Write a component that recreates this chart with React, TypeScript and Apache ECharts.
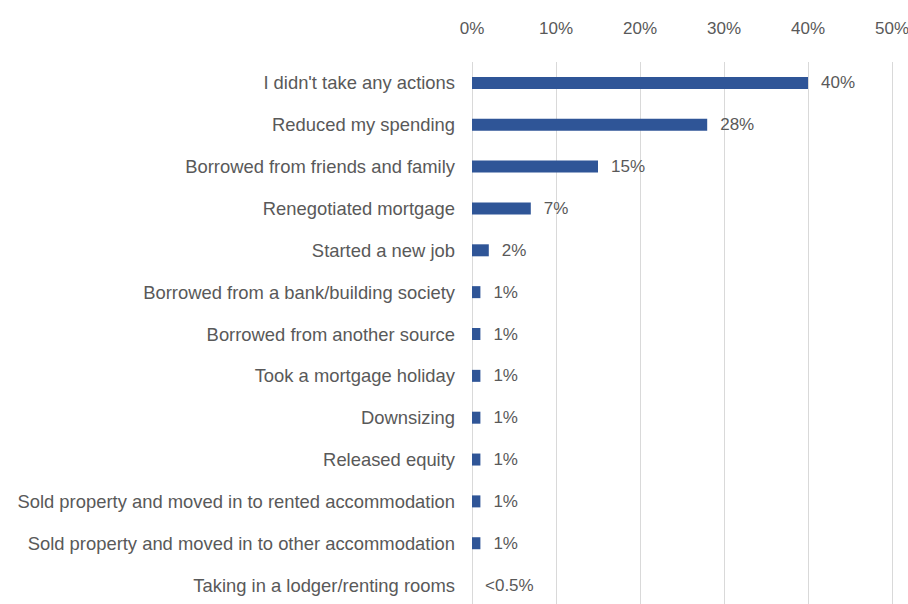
import React, { useEffect, useRef } from "react";
import * as echarts from "echarts";

const categories = [
  "I didn't take any actions",
  "Reduced my spending",
  "Borrowed from friends and family",
  "Renegotiated mortgage",
  "Started a new job",
  "Borrowed from a bank/building society",
  "Borrowed from another source",
  "Took a mortgage holiday",
  "Downsizing",
  "Released equity",
  "Sold property and moved in to rented accommodation",
  "Sold property and moved in to other accommodation",
  "Taking in a lodger/renting rooms",
];
const values = [40, 28, 15, 7, 2, 1, 1, 1, 1, 1, 1, 1, 0];
const valueLabels = ["40%", "28%", "15%", "7%", "2%", "1%", "1%", "1%", "1%", "1%", "1%", "1%", "<0.5%"];

export default function App() {
  const ref = useRef<HTMLDivElement>(null);
  useEffect(() => {
    const chart = echarts.init(ref.current!, null, { renderer: "svg" });
    const font = "'Liberation Sans', Arial, sans-serif";
    chart.setOption({
      animation: false,
      backgroundColor: "#ffffff",
      grid: {
        left: 472,
        width: 420,
        top: 62,
        height: 544,
        containLabel: false,
        outerBoundsMode: "none",
      },
      xAxis: {
        type: "value",
        position: "top",
        min: 0,
        max: 50,
        interval: 10,
        axisLabel: {
          formatter: (v: number) => v + "%",
          color: "#595959",
          fontSize: 17,
          fontFamily: font,
          margin: 25,
        },
        axisLine: { show: false },
        axisTick: { show: false },
        splitLine: { lineStyle: { color: "#d9d9d9", width: 1 } },
      },
      yAxis: {
        type: "category",
        data: categories,
        inverse: true,
        axisLabel: {
          color: "#595959",
          fontSize: 18.4,
          fontFamily: font,
          margin: 17,
        },
        axisLine: { show: false },
        axisTick: { show: false },
        splitLine: { show: false },
      },
      series: [
        {
          type: "bar",
          data: values,
          barWidth: 12,
          itemStyle: { color: "#2f5597" },
          label: {
            show: true,
            position: "right",
            distance: 13,
            color: "#595959",
            fontSize: 17,
            fontFamily: font,
            formatter: (p: any) => valueLabels[p.dataIndex],
          },
        },
      ],
    });
    return () => chart.dispose();
  }, []);
  return (
    <div
      ref={ref}
      style={{ position: "fixed", left: 0, top: 0, width: 908, height: 604 }}
    />
  );
}
